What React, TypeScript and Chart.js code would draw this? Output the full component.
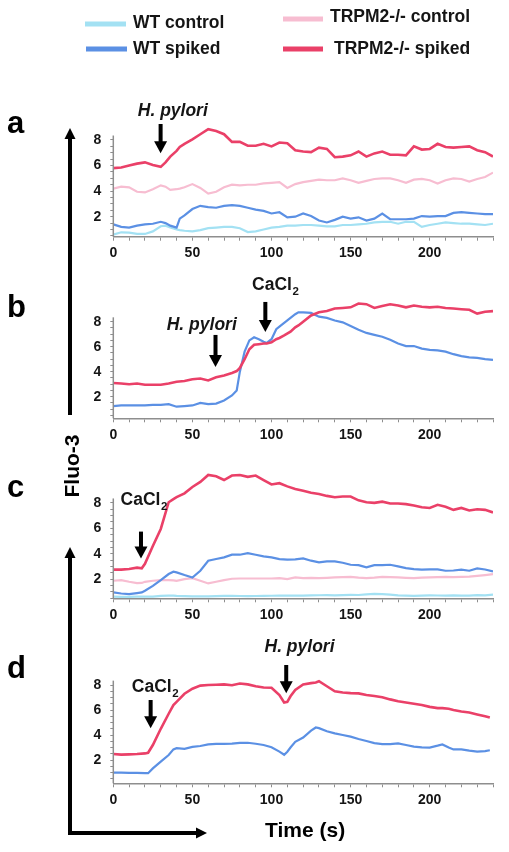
import React, { useEffect, useRef } from 'react';
import { Chart, registerables } from 'chart.js';

Chart.register(...registerables);

const FAMILY = '"Liberation Sans", Arial, Helvetica, sans-serif';

const SERIES_NAMES = ['WT control', 'WT spiked', 'TRPM2-/- control', 'TRPM2-/- spiked'];
const SERIES_COLORS = ['#a3e1f3', '#5b90e4', '#f7bdd1', '#ea4068'];

const xTickLabels = [0, 50, 100, 150, 200];
const yTickLabels = [2, 4, 6, 8];
const X_MIN = 0;
const X_MAX = 240;
const Y_AXIS_TOP = 8.35;

// ---------- panel a ----------
const timeA = [0, 5, 10, 15, 20, 25, 30, 33, 36, 40, 42, 45, 50, 55, 60, 65, 70, 75, 80, 85, 90, 95, 100, 105, 110, 115, 120, 125, 130, 135, 140, 145, 150, 155, 160, 165, 170, 175, 180, 185, 190, 195, 200, 205, 210, 215, 220, 225, 230, 235, 240];
const wtControlA = [0.6, 0.78, 0.75, 0.65, 0.65, 0.85, 1.25, 1.3, 1.15, 1.0, 0.95, 0.9, 0.85, 0.95, 1.1, 1.15, 1.2, 1.2, 1.1, 0.8, 0.85, 1.0, 1.15, 1.2, 1.3, 1.3, 1.35, 1.35, 1.3, 1.25, 1.25, 1.35, 1.35, 1.4, 1.45, 1.55, 1.6, 1.6, 1.45, 1.6, 1.6, 1.2, 1.35, 1.45, 1.55, 1.5, 1.45, 1.45, 1.4, 1.35, 1.45];
const wtSpikedA = [1.4, 1.2, 1.15, 1.3, 1.4, 1.45, 1.6, 1.5, 1.3, 1.15, 1.85, 2.1, 2.6, 2.85, 2.75, 2.7, 2.85, 2.9, 2.85, 2.7, 2.55, 2.45, 2.25, 2.35, 1.95, 2.0, 2.25, 2.05, 1.7, 1.55, 1.75, 2.0, 1.85, 1.95, 1.7, 1.85, 2.25, 1.8, 1.8, 1.8, 1.85, 2.05, 2.0, 2.05, 2.05, 2.3, 2.35, 2.3, 2.25, 2.2, 2.2];
const koControlA = [4.2, 4.35, 4.3, 3.95, 3.9, 4.15, 4.45, 4.35, 4.1, 4.15, 4.2, 4.3, 4.55, 4.25, 3.8, 3.95, 4.3, 4.5, 4.45, 4.5, 4.5, 4.6, 4.65, 4.7, 4.25, 4.55, 4.7, 4.8, 4.9, 4.85, 4.85, 5.0, 4.85, 4.65, 4.8, 4.95, 5.0, 5.0, 4.85, 4.65, 4.9, 4.95, 4.85, 4.6, 4.85, 5.0, 4.95, 4.75, 4.95, 5.1, 5.45];
const koSpikedA = [5.8, 5.85, 6.0, 6.15, 6.25, 6.05, 5.9, 6.25, 6.7, 7.15, 7.45, 7.7, 8.05, 8.45, 8.85, 8.7, 8.45, 7.85, 7.85, 7.55, 7.55, 7.7, 7.5, 7.8, 7.75, 7.2, 7.1, 7.05, 7.4, 7.3, 6.65, 6.7, 6.8, 7.1, 6.7, 6.95, 7.1, 6.85, 6.85, 6.8, 7.5, 7.25, 7.3, 7.7, 7.45, 7.4, 7.45, 7.5, 7.2, 7.05, 6.7];

// ---------- panel b ----------
const timeB = [0, 5, 10, 15, 20, 25, 30, 35, 40, 45, 50, 55, 60, 65, 70, 75, 78, 80, 83, 86, 89, 92, 95, 97, 100, 103, 105, 108, 112, 115, 117, 120, 125, 130, 135, 140, 145, 150, 155, 160, 165, 170, 175, 180, 185, 190, 195, 200, 205, 210, 215, 220, 225, 230, 235, 240];
const wtSpikedB = [1.25, 1.3, 1.3, 1.3, 1.3, 1.35, 1.35, 1.4, 1.2, 1.25, 1.3, 1.5, 1.4, 1.45, 1.7, 2.1, 2.5, 4.0, 5.6, 6.5, 6.75, 6.6, 6.4, 6.3, 6.6, 7.4, 7.6, 7.9, 8.3, 8.6, 8.75, 8.75, 8.7, 8.4, 8.3, 8.1, 7.95, 7.65, 7.35, 7.1, 6.95, 6.8, 6.55, 6.25, 6.05, 6.05, 5.85, 5.75, 5.7, 5.6, 5.4, 5.25, 5.15, 5.1, 5.0, 4.95];
const koSpikedB = [3.1, 3.05, 3.0, 3.05, 2.95, 2.95, 2.95, 3.05, 3.2, 3.25, 3.4, 3.45, 3.3, 3.55, 3.7, 3.9, 4.05, 4.3, 5.0, 5.8, 6.15, 6.2, 6.25, 6.25, 6.35, 6.6, 6.7, 6.9, 7.2, 7.55, 7.7, 8.0, 8.5, 8.75, 8.85, 9.05, 9.1, 9.15, 9.45, 9.4, 9.1, 9.25, 9.4, 9.3, 9.15, 9.3, 9.2, 9.15, 9.2, 9.1, 9.05, 9.0, 8.95, 8.65, 8.8, 8.85];

// ---------- panel c ----------
const timeC = [0, 5, 10, 15, 18, 20, 25, 30, 35, 38, 40, 45, 50, 55, 60, 65, 70, 75, 80, 85, 90, 95, 100, 105, 110, 115, 120, 125, 130, 135, 140, 145, 150, 155, 160, 165, 170, 175, 180, 185, 190, 195, 200, 205, 210, 215, 220, 225, 230, 235, 240];
const wtControlC = [0.62, 0.6, 0.6, 0.62, 0.62, 0.62, 0.62, 0.68, 0.7, 0.7, 0.68, 0.66, 0.64, 0.64, 0.64, 0.66, 0.68, 0.68, 0.67, 0.66, 0.67, 0.68, 0.69, 0.7, 0.7, 0.71, 0.7, 0.72, 0.73, 0.74, 0.72, 0.74, 0.76, 0.75, 0.8, 0.84, 0.82, 0.78, 0.72, 0.7, 0.68, 0.7, 0.72, 0.71, 0.7, 0.72, 0.7, 0.7, 0.74, 0.72, 0.78];
const wtSpikedC = [0.95, 0.87, 0.82, 0.9, 0.95, 1.08, 1.47, 1.92, 2.4, 2.58, 2.53, 2.32, 2.13, 2.66, 3.45, 3.58, 3.71, 3.92, 3.92, 4.05, 3.92, 3.79, 3.71, 3.58, 3.53, 3.55, 3.63, 3.45, 3.32, 3.4, 3.4, 3.29, 3.13, 3.1, 2.92, 3.1, 3.1, 3.13, 3.0, 2.87, 2.79, 2.74, 2.76, 2.76, 2.66, 2.68, 2.74, 2.66, 2.84, 2.76, 2.6];
const koControlC = [1.87, 1.92, 1.79, 1.68, 1.7, 1.79, 1.87, 1.92, 1.92, 1.9, 1.87, 2.0, 2.08, 1.87, 1.66, 1.79, 1.92, 2.03, 2.05, 2.05, 2.05, 2.05, 2.05, 2.08, 2.0, 2.13, 2.08, 2.1, 2.08, 2.1, 2.13, 2.15, 2.18, 2.12, 2.08, 2.12, 2.18, 2.15, 2.13, 2.1, 2.08, 2.12, 2.13, 2.15, 2.18, 2.15, 2.18, 2.2, 2.26, 2.32, 2.39];
const koSpikedC = [2.75, 2.75, 2.8, 2.9, 2.85, 3.2, 4.6, 5.95, 8.05, 8.3, 8.45, 8.75, 9.25, 9.65, 10.2, 10.1, 9.8, 10.15, 10.2, 10.05, 10.15, 9.8, 9.45, 9.55, 9.3, 9.1, 8.95, 8.8, 8.7, 8.55, 8.45, 8.5, 8.5, 8.2, 8.05, 8.0, 8.1, 7.95, 7.95, 7.9, 7.8, 7.65, 7.6, 7.85, 7.7, 7.45, 7.6, 7.4, 7.5, 7.45, 7.25];

// ---------- panel d ----------
const timeD = [0, 5, 10, 15, 20, 22, 25, 30, 35, 38, 40, 45, 50, 55, 60, 65, 70, 75, 80, 85, 90, 95, 100, 105, 108, 110, 112, 115, 120, 125, 128, 130, 135, 140, 145, 150, 155, 160, 165, 170, 175, 180, 185, 190, 195, 200, 205, 208, 212, 215, 220, 225, 230, 235, 238];
const wtSpikedD = [0.99, 0.99, 0.98, 0.97, 0.95, 0.95, 1.33, 1.87, 2.4, 2.85, 2.95, 2.9, 3.05, 3.12, 3.25, 3.3, 3.3, 3.32, 3.38, 3.38, 3.3, 3.2, 3.02, 2.67, 2.42, 2.67, 3.0, 3.45, 3.8, 4.35, 4.6, 4.55, 4.3, 4.13, 4.0, 3.87, 3.68, 3.52, 3.35, 3.28, 3.27, 3.33, 3.2, 3.07, 3.02, 3.0, 3.15, 3.25, 3.0, 2.85, 2.85, 2.75, 2.67, 2.72, 2.78];
const koSpikedD = [2.48, 2.43, 2.45, 2.48, 2.53, 2.58, 3.2, 4.5, 5.7, 6.4, 6.65, 7.3, 7.7, 7.95, 8.0, 8.02, 8.05, 7.98, 8.12, 8.05, 7.9, 7.8, 7.78, 7.2, 6.6, 6.65, 7.1, 7.6, 8.05, 8.15, 8.2, 8.3, 7.9, 7.5, 7.4, 7.35, 7.33, 7.2, 7.12, 7.02, 6.85, 6.7, 6.6, 6.5, 6.4, 6.25, 6.15, 6.15, 6.1, 6.0, 5.88, 5.8, 5.65, 5.5, 5.4];

type Annot = { label: string; labelT: number; labelV: number; arrowT: number; tailV: number; tipV: number };
type SeriesDef = { idx: number; values: number[] };
type PanelCfg = {
  time: number[];
  series: SeriesDef[];
  yMin: number;
  yMax: number;
  annots: Annot[];
  top: number;
  height: number;
  areaTop: number;
  areaBottom: number;
};

const PANELS: PanelCfg[] = [
  {
    time: timeA,
    series: [
      { idx: 3, values: koSpikedA },
      { idx: 1, values: wtSpikedA },
      { idx: 2, values: koControlA },
      { idx: 0, values: wtControlA },
    ],
    yMin: 0.435, yMax: 9.0,
    annots: [{ label: 'H. pylori', labelT: 37.6, labelV: 9.89, arrowT: 29.9, tailV: 9.25, tipV: 6.96 }],
    top: 95, height: 170, areaTop: 127.2, areaBottom: 236.7,
  },
  {
    time: timeB,
    series: [
      { idx: 3, values: koSpikedB },
      { idx: 1, values: wtSpikedB },
    ],
    yMin: 0.27, yMax: 9.6,
    annots: [
      { label: 'H. pylori', labelT: 55.9, labelV: 7.31, arrowT: 64.6, tailV: 6.94, tipV: 4.38 },
      { label: 'CaCl2', labelT: 102.3, labelV: 10.5, arrowT: 96.1, tailV: 9.58, tipV: 7.18 },
    ],
    top: 270, height: 176, areaTop: 301.7, areaBottom: 418.3,
  },
  {
    time: timeC,
    series: [
      { idx: 3, values: koSpikedC },
      { idx: 1, values: wtSpikedC },
      { idx: 2, values: koControlC },
      { idx: 0, values: wtControlC },
    ],
    yMin: 0.49, yMax: 10.4,
    annots: [{ label: 'CaCl2', labelT: 19.2, labelV: 7.82, arrowT: 17.5, tailV: 5.74, tipV: 3.62 }],
    top: 455, height: 171, areaTop: 471.6, areaBottom: 598.3,
  },
  {
    time: timeD,
    series: [
      { idx: 3, values: koSpikedD },
      { idx: 1, values: wtSpikedD },
    ],
    yMin: 0.14, yMax: 8.5,
    annots: [
      { label: 'CaCl2', labelT: 26.3, labelV: 7.42, arrowT: 23.6, tailV: 6.8, tipV: 4.54 },
      { label: 'H. pylori', labelT: 117.7, labelV: 10.6, arrowT: 109.3, tailV: 9.6, tipV: 7.34 },
    ],
    top: 632, height: 179, areaTop: 678.75, areaBottom: 783.3,
  },
];

const AXIS_COLOR = '#8e8e8e';
const TEXT_COLOR = '#151515';

function drawAnnotations(chart: any, annots: Annot[], yMin: number) {
  const { ctx, scales, chartArea } = chart;
  const xs = scales.x;
  const ys = scales.y;
  ctx.save();
  // y axis line (only up to the last labelled region, like the original)
  ctx.strokeStyle = AXIS_COLOR;
  ctx.lineWidth = 1.5;
  ctx.beginPath();
  ctx.moveTo(chartArea.left, ys.getPixelForValue(yMin));
  ctx.lineTo(chartArea.left, ys.getPixelForValue(Y_AXIS_TOP));
  ctx.stroke();

  ctx.fillStyle = '#000';
  for (const a of annots) {
    const x = xs.getPixelForValue(a.arrowT);
    const yTail = ys.getPixelForValue(a.tailV);
    const yTip = ys.getPixelForValue(a.tipV);
    const head = 12;
    ctx.fillRect(x - 2, yTail, 4, yTip - head - yTail + 1);
    ctx.beginPath();
    ctx.moveTo(x - 6.5, yTip - head);
    ctx.lineTo(x + 6.5, yTip - head);
    ctx.lineTo(x, yTip);
    ctx.closePath();
    ctx.fill();

    const lx = xs.getPixelForValue(a.labelT);
    const ly = ys.getPixelForValue(a.labelV);
    ctx.fillStyle = TEXT_COLOR;
    ctx.textBaseline = 'alphabetic';
    if (a.label === 'CaCl2') {
      ctx.font = `bold 17.5px ${FAMILY}`;
      const w1 = ctx.measureText('CaCl').width;
      ctx.font = `bold 11.5px ${FAMILY}`;
      const w2 = ctx.measureText('2').width;
      const start = lx - (w1 + w2) / 2;
      ctx.textAlign = 'left';
      ctx.font = `bold 17.5px ${FAMILY}`;
      ctx.fillText('CaCl', start, ly);
      ctx.font = `bold 11.5px ${FAMILY}`;
      ctx.fillText('2', start + w1 + 0.5, ly + 4.5);
    } else {
      ctx.font = `italic bold 17.5px ${FAMILY}`;
      ctx.textAlign = 'center';
      ctx.fillText(a.label, lx, ly);
    }
    ctx.fillStyle = '#000';
  }
  ctx.restore();
}

function Panel({ cfg }: { cfg: PanelCfg }) {
  const ref = useRef<HTMLCanvasElement>(null);
  useEffect(() => {
    const canvas = ref.current;
    if (!canvas) return;
    const yMinor: number[] = [];
    for (let v = 0.5; v <= 8.0001; v += 0.5) if (v >= cfg.yMin) yMinor.push(v);

    const datasets = cfg.series.map((s) => ({
      label: SERIES_NAMES[s.idx],
      data: cfg.time.map((t, i) => ({ x: t, y: s.values[i] })),
      borderColor: SERIES_COLORS[s.idx],
      backgroundColor: SERIES_COLORS[s.idx],
      borderWidth: s.idx === 3 ? 2.6 : 2.2,
      pointRadius: 0,
      tension: 0,
      fill: false,
    }));

    const chart = new Chart(canvas, {
      type: 'line',
      data: { datasets },
      options: {
        animation: false,
        responsive: false,
        devicePixelRatio: 1,
        events: [],
        layout: { padding: { left: 0, right: 16, top: cfg.areaTop - cfg.top, bottom: 0 } },
        plugins: {
          legend: { display: false },
          tooltip: { enabled: false },
        },
        scales: {
          x: {
            type: 'linear',
            min: X_MIN,
            max: X_MAX,
            grid: { drawOnChartArea: false, drawTicks: true, tickLength: 4, color: AXIS_COLOR, lineWidth: 1 },
            border: { display: true, color: AXIS_COLOR, width: 1.5 },
            ticks: {
              stepSize: 10,
              autoSkip: false,
              maxRotation: 0,
              padding: 4,
              color: TEXT_COLOR,
              font: { family: FAMILY, size: 14, weight: 'bold' },
              callback: (v: any) => (xTickLabels.includes(Number(v)) ? String(v) : ''),
            },
            afterFit: (s: any) => {
              s.height = cfg.top + cfg.height - cfg.areaBottom;
            },
          },
          y: {
            type: 'linear',
            min: cfg.yMin,
            max: cfg.yMax,
            grid: { drawOnChartArea: false, drawTicks: true, tickLength: 3, color: AXIS_COLOR, lineWidth: 1 },
            border: { display: false },
            ticks: {
              autoSkip: false,
              padding: 9,
              color: TEXT_COLOR,
              font: { family: FAMILY, size: 14, weight: 'bold' },
              callback: (v: any) => (yTickLabels.includes(Number(v)) ? String(v) : ''),
            },
            afterBuildTicks: (s: any) => {
              s.ticks = yMinor.map((v) => ({ value: v }));
            },
            afterFit: (s: any) => {
              s.width = 113.3;
            },
          },
        },
      },
      plugins: [
        {
          id: 'annots',
          afterDraw: (c: any) => drawAnnotations(c, cfg.annots, cfg.yMin),
        },
      ],
    } as any);
    return () => chart.destroy();
  }, [cfg]);
  return (
    <canvas
      ref={ref}
      width={509}
      height={cfg.height}
      style={{ position: 'absolute', left: 0, top: cfg.top, width: 509, height: cfg.height }}
    />
  );
}

const LEGEND_ITEMS = [
  { idx: 0, x1: 85, x2: 126, ly: 24, tx: 133, ty: 27.5 },
  { idx: 1, x1: 86, x2: 127, ly: 49, tx: 133, ty: 53.5 },
  { idx: 2, x1: 283, x2: 323, ly: 19, tx: 330, ty: 21.5 },
  { idx: 3, x1: 283, x2: 323, ly: 49, tx: 334, ty: 53.5 },
];

const PANEL_LETTERS = [
  { text: 'a', y: 133 },
  { text: 'b', y: 316.7 },
  { text: 'c', y: 496.7 },
  { text: 'd', y: 678.3 },
];

function Overlay() {
  return (
    <svg
      width={509}
      height={852}
      style={{ position: 'absolute', left: 0, top: 0, pointerEvents: 'none' }}
      fontFamily={FAMILY}
    >
      {LEGEND_ITEMS.map((it) => (
        <g key={it.idx}>
          <line x1={it.x1} x2={it.x2} y1={it.ly} y2={it.ly} stroke={SERIES_COLORS[it.idx]} strokeWidth={5} />
          <text x={it.tx} y={it.ty} fontSize={17.5} fontWeight="bold" fill={TEXT_COLOR}>
            {SERIES_NAMES[it.idx]}
          </text>
        </g>
      ))}
      {PANEL_LETTERS.map((p) => (
        <text key={p.text} x={7} y={p.y} fontSize={31} fontWeight="bold" fill="#000">
          {p.text}
        </text>
      ))}
      {/* upper vertical arrow */}
      <line x1={70} x2={70} y1={415} y2={138} stroke="#000" strokeWidth={4} />
      <polygon points="64.5,139 75.5,139 70,128" fill="#000" />
      {/* Fluo-3 */}
      <text
        transform="translate(78.5,466) rotate(-90)"
        textAnchor="middle"
        fontSize={21}
        fontWeight="bold"
        fill="#000"
      >
        Fluo-3
      </text>
      {/* lower L-shaped arrows */}
      <line x1={70} x2={70} y1={835} y2={557} stroke="#000" strokeWidth={4} />
      <polygon points="64.5,558 75.5,558 70,547" fill="#000" />
      <line x1={68} x2={197} y1={833} y2={833} stroke="#000" strokeWidth={4} />
      <polygon points="196,827.5 196,838.5 207,833" fill="#000" />
      <text x={265} y={837} fontSize={21} fontWeight="bold" fill="#000">
        Time (s)
      </text>
    </svg>
  );
}

export default function App() {
  return (
    <div style={{ position: 'absolute', left: 0, top: 0, width: 509, height: 852, background: '#fff', overflow: 'hidden' }}>
      {PANELS.map((p, i) => (
        <Panel key={i} cfg={p} />
      ))}
      <Overlay />
    </div>
  );
}
